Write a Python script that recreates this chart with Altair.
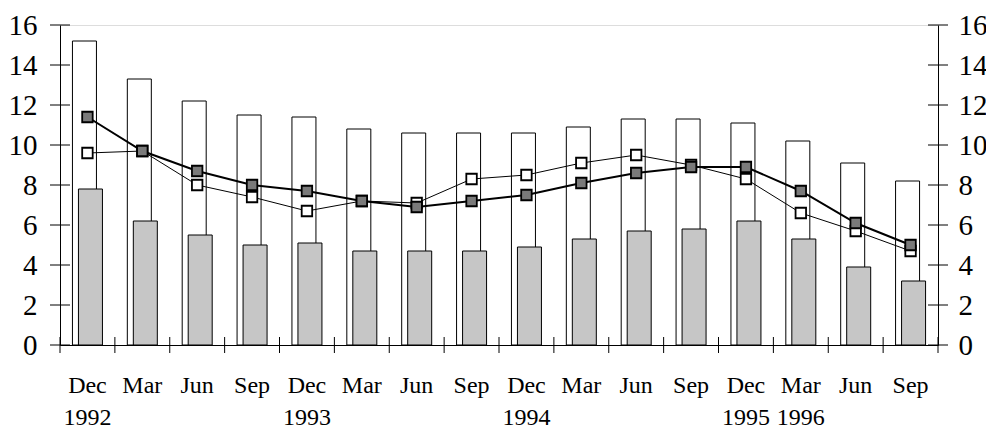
import altair as alt
import pandas as pd

months = ["Dec", "Mar", "Jun", "Sep", "Dec", "Mar", "Jun", "Sep",
          "Dec", "Mar", "Jun", "Sep", "Dec", "Mar", "Jun", "Sep"]
years = ["1992", "", "", "", "1993", "", "", "", "1994", "", "", "",
         "1995", "1996", "", ""]
white_bars = [15.2, 13.3, 12.2, 11.5, 11.4, 10.8, 10.6, 10.6,
              10.6, 10.9, 11.3, 11.3, 11.1, 10.2, 9.1, 8.2]
hatched_bars = [7.8, 6.2, 5.5, 5.0, 5.1, 4.7, 4.7, 4.7,
                4.9, 5.3, 5.7, 5.8, 6.2, 5.3, 3.9, 3.2]
dark_line = [11.4, 9.7, 8.7, 8.0, 7.7, 7.2, 6.9, 7.2,
             7.5, 8.1, 8.6, 8.9, 8.9, 7.7, 6.1, 5.0]
white_line = [9.6, 9.7, 8.0, 7.4, 6.7, 7.2, 7.1, 8.3,
              8.5, 9.1, 9.5, 9.0, 8.3, 6.6, 5.7, 4.7]
y_ticks = [0, 2, 4, 6, 8, 10, 12, 14, 16]

W, H = 878, 320
FONT = "Liberation Serif"
XFS = 24
YFS = 29

keys = [f"{m}|{y}|{i}" for i, (m, y) in enumerate(zip(months, years))]
df = pd.DataFrame({
    "key": keys,
    "white_bar": white_bars,
    "hatched_bar": hatched_bars,
    "dark": dark_line,
    "white": white_line,
    "idx": list(range(len(keys))),
})
tick_df = pd.DataFrame({"t": y_ticks})

yscale = alt.Scale(domain=[0, 16], nice=False, zero=True)
xscale = alt.Scale(paddingInner=0, paddingOuter=0)

x_axis = alt.Axis(
    title=None, ticks=False, tickSize=0, domain=True, domainColor="black",
    domainWidth=1, labelAngle=0, labelOverlap=False, labelPadding=28,
    labelBaseline="top", labelLineHeight=32, labelFont=FONT, labelFontSize=XFS,
    labelColor="black", grid=False,
    labelExpr="slice(split(datum.value, '|'), 0, 2)",
)

def xenc(**kw):
    return alt.X("key:N", sort=keys, scale=xscale, axis=x_axis, **kw)

def yaxis(orient, pad):
    return alt.Axis(
        orient=orient, title=None, values=y_ticks, ticks=False, tickSize=0,
        domain=True, domainColor="black", domainWidth=1, grid=False,
        labelPadding=pad, labelFont=FONT, labelFontSize=YFS, labelColor="black",
    )

base = alt.Chart(df)

white_bar_layer = base.mark_bar(
    width=24, xOffset=-3, fill="white", stroke="black", strokeWidth=1
).encode(x=xenc(), y=alt.Y("white_bar:Q", scale=yscale, axis=yaxis("left", 23)))

hatched_bar_layer = base.mark_bar(
    width=24, xOffset=3, fill="#c6c6c6", stroke="black", strokeWidth=1
).encode(x=xenc(), y=alt.Y("hatched_bar:Q", scale=yscale, axis=None))

x_ticks = base.mark_rule(color="black", strokeWidth=1, yOffset=8, y2Offset=-8).encode(
    x=xenc(bandPosition=0),
    y=alt.YDatum(0, scale=yscale, axis=None),
    y2=alt.Y2Datum(0),
)
x_tick_end = base.transform_filter(alt.datum.idx == len(keys) - 1).mark_rule(
    color="black", strokeWidth=1, yOffset=8, y2Offset=-8
).encode(
    x=xenc(bandPosition=1),
    y=alt.YDatum(0, scale=yscale, axis=None),
    y2=alt.Y2Datum(0),
)

left_ticks = alt.Chart(tick_df).mark_rule(color="black", strokeWidth=1).encode(
    y=alt.Y("t:Q", scale=yscale, axis=None),
    x=alt.value(-10), x2=alt.value(10),
)
right_ticks = alt.Chart(tick_df).mark_rule(color="black", strokeWidth=1).encode(
    y=alt.Y("t:Q", scale=yscale, axis=None),
    x=alt.value(W - 10), x2=alt.value(W + 10),
)

white_ln = base.mark_line(color="black", strokeWidth=1).encode(
    x=xenc(), y=alt.Y("white:Q", scale=yscale, axis=None))
white_pt = base.mark_square(
    size=110, fill="white", stroke="black", strokeWidth=1.8, opacity=1
).encode(x=xenc(), y=alt.Y("white:Q", scale=yscale, axis=None))

dark_ln = base.mark_line(color="black", strokeWidth=2).encode(
    x=xenc(), y=alt.Y("dark:Q", scale=yscale, axis=None))
dark_pt = base.mark_square(
    size=110, fill="#7a7a7a", stroke="black", strokeWidth=1.8, opacity=1
).encode(x=xenc(), y=alt.Y("dark:Q", scale=yscale, axis=yaxis("right", 20)))

chart = alt.layer(
    white_bar_layer, hatched_bar_layer, x_ticks, x_tick_end,
    left_ticks, right_ticks, white_ln, white_pt, dark_ln, dark_pt,
).resolve_axis(y="independent").properties(
    width=W, height=H,
    padding={"left": 52, "top": 17, "right": 48, "bottom": 83},
    autosize=alt.AutoSizeParams(type="none"),
).configure_view(stroke=None).configure(
    background="white"
).configure_axis(
    labelFont=FONT, labelColor="black"
).configure_axisLeft(
    labelFont=FONT, labelFontSize=YFS
).configure_axisRight(
    labelFont=FONT, labelFontSize=YFS
)

chart.save("out.html", embed_options={"renderer": "svg", "actions": False})
